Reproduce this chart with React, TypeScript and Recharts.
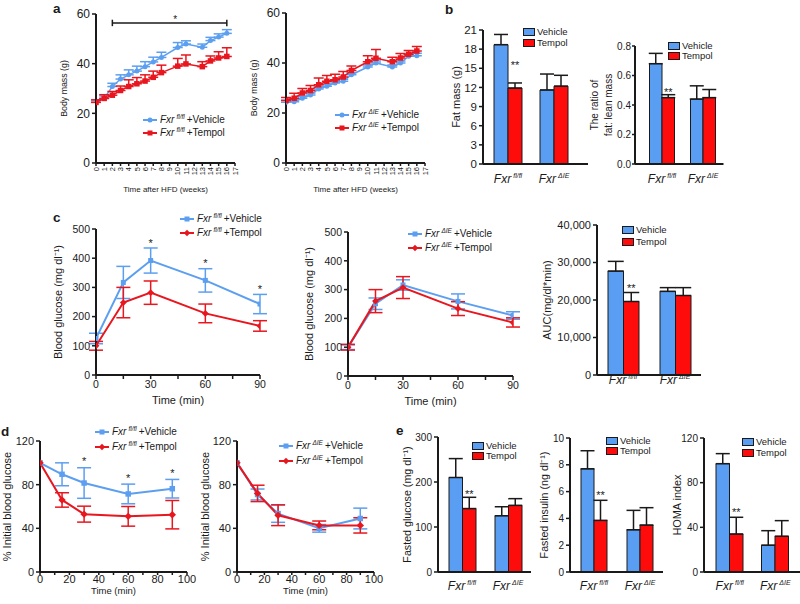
import React from 'react';
import {
  Bar, BarChart, ErrorBar, LabelList, Legend, Line, LineChart,
  ReferenceDot, ReferenceLine, XAxis, YAxis,
} from 'recharts';

const FONT = '"Liberation Sans", Arial, Helvetica, sans-serif';
const INK = '#1a1a1a';
const BLUE = '#5c9ff0';
const RED = '#e8161e';
const BAR_BLUE = '#5a9ef4';
const BAR_RED = '#fe0c0c';

// a: body mass after HFD
const weeks = [0, 1, 2, 3, 4, 5, 6, 7, 8, 10, 11, 13, 14, 15, 16];
const weekTicks = [0, 1, 2, 3, 4, 5, 6, 7, 8, 9, 10, 11, 12, 13, 14, 15, 16, 17];
const aFlVeh = [24.5, 26, 30.8, 33.8, 35.5, 37, 38.8, 40.7, 42.5, 46.5, 47.9, 46.6, 49.3, 50.7, 52.2];
const aFlVehErr = [1, 1, 1.3, 1.7, 2, 2, 2, 1.9, 2.1, 2, 1.3, 1.3, 1.3, 1.3, 1.5];
const aFlTem = [24.4, 26, 27.3, 29.2, 30.8, 31.9, 33, 34.5, 36.4, 39, 39.9, 38.8, 41.1, 42.3, 42.9];
const aFlTemErr = [1, 1.5, 1.5, 1.8, 2.7, 2.5, 2.5, 2.5, 3, 3.1, 3.6, 2, 2, 2.5, 3.5];
const aDeVeh = [24.3, 24.5, 25.9, 27.2, 29.6, 30.7, 32, 32.7, 35.3, 38.4, 40, 38.4, 40, 42.7, 42.9];
const aDeVehErr = [0.8, 0.8, 0.8, 0.8, 0.8, 0.8, 0.8, 0.8, 0.8, 0.8, 0.8, 0.8, 0.8, 0.8, 1];
const aDeTem = [25, 25.9, 28, 29, 31.3, 32.7, 33.3, 34.4, 37, 40.5, 41.9, 40.5, 42, 43.5, 44.8];
const aDeTemErr = [1.2, 2, 1.8, 2, 2.7, 2.3, 2.2, 2.2, 1.8, 2.4, 3.5, 1.8, 1.8, 1.5, 1.8];
const aSig = { from: 2, to: 16, level: 56.4, star: 9.7 };

// c: glucose tolerance
const gttTimes = [0, 15, 30, 60, 90];
const cFlVeh = [125, 317, 392, 324, 243];
const cFlVehErr = [18, 55, 43, 40, 33];
const cFlTem = [100, 248, 282, 211, 168];
const cFlTemErr = [15, 52, 40, 32, 18];
const cDeVeh = [100, 251, 316, 259, 210];
const cDeVehErr = [8, 20, 18, 26, 13];
const cDeTem = [100, 260, 307, 234, 186];
const cDeTemErr = [10, 40, 38, 24, 16];
const vehSig = [false, false, true, true, true];

// d: insulin tolerance
const ittTimes = [0, 15, 30, 60, 90];
const dFlVeh = [100, 89.5, 81.5, 71.5, 76.3];
const dFlVehErr = [0, 10.5, 14, 9, 8.5];
const dFlTem = [100, 66, 53, 51, 52.5];
const dFlTemErr = [0, 6.6, 7.3, 9, 13];
const dDeVeh = [100, 71, 53.5, 40, 49];
const dDeVehErr = [0, 5, 8, 3.5, 9.5];
const dDeTem = [100, 72, 52, 42.7, 42.7];
const dDeTemErr = [0, 7.5, 9.5, 4, 7];

// bar panels
const genotypes = ['fl/fl', 'ΔIE'];
const treatments = ['Vehicle', 'Tempol'];
const tempolSig = ['**', ''];
const bFatVeh = [18.7, 11.6];
const bFatVehErr = [1.6, 2.5];
const bFatTem = [11.9, 12.2];
const bFatTemErr = [0.8, 1.7];
const bRatioVeh = [0.68, 0.44];
const bRatioVehErr = [0.07, 0.09];
const bRatioTem = [0.45, 0.45];
const bRatioTemErr = [0.02, 0.055];
const cAucVeh = [27700, 22300];
const cAucVehErr = [2600, 1000];
const cAucTem = [19600, 21200];
const cAucTemErr = [2400, 2100];
const eGluVeh = [210, 125];
const eGluVehErr = [42, 20];
const eGluTem = [141, 148];
const eGluTemErr = [25, 15];
const eInsVeh = [7.7, 3.15];
const eInsVehErr = [1.35, 1.45];
const eInsTem = [3.85, 3.5];
const eInsTemErr = [1.5, 1.3];
const eHomaVeh = [97, 24];
const eHomaVehErr = [9, 13];
const eHomaTem = [34, 32];
const eHomaTemErr = [15, 14];

const weekRows = (veh: number[], vErr: number[], tem: number[], tErr: number[]) =>
  weeks.map((w, i) => ({ x: w, veh: veh[i], vehErr: [0, vErr[i]], tem: tem[i], temErr: [0, tErr[i]] }));

const timeRows = (times: number[], veh: number[], vErr: number[], tem: number[], tErr: number[], sig?: boolean[]) =>
  times.map((t, i) => ({
    x: t, veh: veh[i], vehErr: vErr[i], tem: tem[i], temErr: tErr[i],
    star: sig && sig[i] ? veh[i] + vErr[i] : null,
  }));

const barRows = (veh: number[], vErr: number[], tem: number[], tErr: number[]) =>
  genotypes.map((g, i) => ({ geno: g, veh: veh[i], vehErr: [0, vErr[i]], tem: tem[i], temErr: [0, tErr[i]], sig: tempolSig[i] }));

type Pad = { l: number; t: number; r: number; b: number };
type Key = { color: string; shape: string; geno: string; treat: string };

function marker(shape: string, color: string, cx: number, cy: number, s: number, key?: any) {
  if (shape === 'circle') return <circle key={key} cx={cx} cy={cy} r={s / 2} fill={color} />;
  if (shape === 'square') return <rect key={key} x={cx - s / 2} y={cy - s / 2} width={s} height={s} fill={color} />;
  const h = s / 2 + 0.7;
  return <polygon key={key} points={`${cx},${cy - h} ${cx + h},${cy} ${cx},${cy + h} ${cx - h},${cy}`} fill={color} />;
}

const dotFn = (shape: string, color: string, s: number) => (p: any) => {
  if (p.cx == null || p.cy == null) return <g key={`e${p.index}`} />;
  return marker(shape, color, p.cx, p.cy, s, `d${p.index}`);
};

// axis titles, drawn on a thin svg laid over the chart (chart coordinates)
function Titles(p: { W: number; H: number; pad: Pad; pw: number; ph: number; y: string[]; yOff: number; yFs: number; x?: string; xDy?: number; xFs?: number }) {
  const cx = p.pad.l - p.yOff;
  const cy = p.pad.t + p.ph / 2;
  const n = p.y.length;
  return (
    <svg width={p.W} height={p.H} style={{ position: 'absolute', left: 0, top: 0, pointerEvents: 'none' }}>
      <text transform={`translate(${cx},${cy}) rotate(-90)`} textAnchor="middle" fontSize={p.yFs} fill={INK}>
        {p.y.map((l, i) => (
          <tspan key={i} x={0} y={(i - (n - 1) / 2) * 14 + p.yFs * 0.35}>{l}</tspan>
        ))}
      </text>
      {p.x && (
        <text x={p.pad.l + p.pw / 2} y={p.pad.t + p.ph + (p.xDy || 0)} textAnchor="middle" fontSize={p.xFs} fill={INK}>
          {p.x}
        </text>
      )}
    </svg>
  );
}

const weekTick = (p: any) => (
  <text x={p.x} y={p.y} transform={`rotate(-90 ${p.x} ${p.y})`} textAnchor="end" dy="0.35em" fontSize={7.5} fill={INK}>
    {p.payload.value}
  </text>
);

const genoTick = (dy: number) => (p: any) => (
  <text x={p.x} y={p.y + dy} textAnchor="middle" fontSize={12} fill={INK}>
    <tspan fontStyle="italic">Fxr</tspan>
    <tspan fontStyle="italic" fontSize={7} dx={2} dy={-5}>{p.payload.value}</tspan>
  </text>
);

const lineStar = (gap: number, fs: number) => (p: any) => {
  if (p.value == null || p.x == null || p.y == null) return null;
  return <text key={`s${p.index}`} x={p.x} y={p.y - gap + fs * 0.6} textAnchor="middle" fontSize={fs} fill={INK}>*</text>;
};

const barStar = (vals: number[], errs: number[], gap: number) => (p: any) => {
  if (!p.value) return null;
  const i = p.index ?? 0;
  const ppu = p.height / vals[i];
  const top = p.y - errs[i] * ppu;
  return <text key={`b${i}`} x={p.x + p.width / 2} y={top - gap + 6.5} textAnchor="middle" fontSize={11} fill={INK}>{p.value}</text>;
};

function LineKey({ keys, row }: { keys: Key[]; row: number }) {
  return (
    <div style={{ fontSize: 10, color: INK, lineHeight: 1, fontFamily: FONT }}>
      {keys.map((k, i) => (
        <div key={i} style={{ height: row, display: 'flex', alignItems: 'center', whiteSpace: 'nowrap' }}>
          <svg width={14} height={8} style={{ marginRight: 3, overflow: 'visible' }}>
            <line x1={0} x2={14} y1={4} y2={4} stroke={k.color} strokeWidth={2} />
            {marker(k.shape, k.color, 7, 4, 5)}
          </svg>
          <span>
            <i>Fxr</i>
            <i style={{ fontSize: 6.5, position: 'relative', top: -4, marginLeft: 2 }}>{k.geno}</i>
            <span style={{ marginLeft: 2 }}>{k.treat}</span>
          </span>
        </div>
      ))}
    </div>
  );
}

function BarKey({ row }: { row: number }) {
  return (
    <div style={{ fontSize: 9.5, color: INK, lineHeight: 1, fontFamily: FONT }}>
      {treatments.map((t, i) => (
        <div key={t} style={{ height: row, display: 'flex', alignItems: 'center', whiteSpace: 'nowrap' }}>
          <span style={{ display: 'inline-block', width: 10, height: 6, background: i ? BAR_RED : BAR_BLUE, border: `1px solid ${INK}`, marginRight: 2 }} />
          {t}
        </div>
      ))}
    </div>
  );
}

const axisLine = { stroke: INK, strokeWidth: 2 };
const tickLine = { stroke: INK, strokeWidth: 1.5 };

function LinePanel(p: any) {
  const [x0, y0, x1, y1] = p.box;
  const pad: Pad = p.pad;
  const left = x0 - pad.l;
  const top = y0 - pad.t;
  const W = x1 - x0 + pad.l + pad.r;
  const H = y1 - y0 + pad.t + pad.b;
  const keys: Key[] = [
    { color: BLUE, shape: p.vehShape, geno: p.geno, treat: '+Vehicle' },
    { color: RED, shape: p.temShape, geno: p.geno, treat: '+Tempol' },
  ];
  return (
    <div style={{ position: 'absolute', left, top, width: W, height: H }}>
      <LineChart width={W} height={H} data={p.data} margin={{ top: pad.t, right: pad.r, left: 0, bottom: 0 }}>
        <XAxis
          type="number" dataKey="x" domain={p.xDomain} ticks={p.xTicks} interval={0} allowDataOverflow
          height={pad.b} axisLine={axisLine} tickLine={tickLine} tickSize={p.xTickSize} tickMargin={p.xTickMargin}
          tick={p.rotated ? weekTick : { fontSize: p.tickFont, fill: INK }}
          tickFormatter={p.xFmt}
        />
        <YAxis
          type="number" domain={p.yDomain} ticks={p.yTicks} interval={0} allowDataOverflow width={pad.l}
          axisLine={axisLine} tickLine={tickLine} tickSize={4} tickMargin={2}
          tick={{ fontSize: p.tickFont, fill: INK }}
        />
        {p.sig && (
          <ReferenceLine segment={[{ x: p.sig.from, y: p.sig.level }, { x: p.sig.to, y: p.sig.level }]} stroke={INK} strokeWidth={1.5} />
        )}
        {p.sig && (
          <ReferenceLine segment={[{ x: p.sig.from, y: p.sig.level - 1.3 }, { x: p.sig.from, y: p.sig.level + 1.3 }]} stroke={INK} strokeWidth={1.5} />
        )}
        {p.sig && (
          <ReferenceLine segment={[{ x: p.sig.to, y: p.sig.level - 1.3 }, { x: p.sig.to, y: p.sig.level + 1.3 }]} stroke={INK} strokeWidth={1.5} />
        )}
        {p.sig && (
          <ReferenceDot
            x={p.sig.star} y={p.sig.level} r={1} fill="none" stroke="none"
            label={(lp: any) => {
              const vb = lp.viewBox || { x: 0, y: 0, width: 0 };
              return <text x={vb.x + vb.width / 2} y={vb.y + 1} textAnchor="middle" fontSize={10} fill={INK}>*</text>;
            }}
          />
        )}
        <Line
          dataKey="veh" stroke={BLUE} strokeWidth={p.lineW} isAnimationActive={false}
          dot={dotFn(p.vehShape, BLUE, p.dotSize)} activeDot={false}
        >
          <ErrorBar dataKey="vehErr" width={p.cap} stroke={BLUE} strokeWidth={1.5} direction="y" />
        </Line>
        <Line
          dataKey="tem" stroke={RED} strokeWidth={p.lineW} isAnimationActive={false}
          dot={dotFn(p.temShape, RED, p.dotSize + 0.5)} activeDot={false}
        >
          <ErrorBar dataKey="temErr" width={p.cap} stroke={RED} strokeWidth={1.5} direction="y" />
        </Line>
        {p.starGap != null && (
          <Line dataKey="star" stroke="none" dot={false} activeDot={false} isAnimationActive={false} legendType="none">
            <LabelList dataKey="star" content={lineStar(p.starGap, 11)} />
          </Line>
        )}
        <Legend
          layout="vertical" align="center" verticalAlign="middle"
          content={() => <LineKey keys={keys} row={p.keyRow} />}
          wrapperStyle={{ left: p.keyX - left, top: p.keyY - top, width: 'auto', height: 'auto' }}
        />
      </LineChart>
      <Titles
        W={W} H={H} pad={pad} pw={x1 - x0} ph={y1 - y0}
        y={[p.yTitle]} yOff={p.yTitleOff} yFs={p.yTitleFont}
        x={p.xTitle} xDy={p.xTitleDy} xFs={p.xTitleFont}
      />
    </div>
  );
}

function BarPanel(p: any) {
  const [x0, y0, x1, y1] = p.box;
  const pad: Pad = p.pad;
  const left = x0 - pad.l;
  const top = y0 - pad.t;
  const W = x1 - x0 + pad.l + pad.r;
  const H = y1 - y0 + pad.t + pad.b;
  return (
    <div style={{ position: 'absolute', left, top, width: W, height: H }}>
      <BarChart width={W} height={H} data={p.data} barGap={0} margin={{ top: pad.t, right: pad.r, left: 0, bottom: 0 }}>
        <XAxis
          dataKey="geno" padding={p.xPad} height={pad.b} axisLine={axisLine} tickLine={false}
          tickSize={0} tickMargin={0} interval={0} tick={genoTick(p.labelDy)}
        />
        <YAxis
          type="number" domain={p.yDomain} ticks={p.yTicks} interval={0} allowDataOverflow width={pad.l}
          axisLine={axisLine} tickLine={tickLine} tickSize={p.yTickSize ?? 4} tickMargin={p.yTickMargin ?? 2}
          tick={{ fontSize: p.tickFont, fill: INK }} tickFormatter={p.yFmt}
        />
        <Bar dataKey="veh" fill={BAR_BLUE} stroke={INK} strokeWidth={1} barSize={p.bw} isAnimationActive={false}>
          <ErrorBar dataKey="vehErr" width={p.cap} stroke={INK} strokeWidth={1.5} direction="y" />
        </Bar>
        <Bar dataKey="tem" fill={BAR_RED} stroke={INK} strokeWidth={1} barSize={p.bw} isAnimationActive={false}>
          <ErrorBar dataKey="temErr" width={p.cap} stroke={INK} strokeWidth={1.5} direction="y" />
          <LabelList dataKey="sig" content={barStar(p.tem, p.temErr, p.starGap)} />
        </Bar>
        <Legend
          layout="vertical" align="center" verticalAlign="middle"
          content={() => <BarKey row={p.keyRow} />}
          wrapperStyle={{ left: p.keyX - left, top: p.keyY - top, width: 'auto', height: 'auto' }}
        />
      </BarChart>
      <Titles W={W} H={H} pad={pad} pw={x1 - x0} ph={y1 - y0} y={p.yTitle} yOff={p.yTitleOff} yFs={p.yTitleFont} />
    </div>
  );
}

const fmtThousands = (v: number) => v.toLocaleString('en-US');
const fmtOne = (v: number) => v.toFixed(1);
const every = (n: number) => (v: number) => (v % n === 0 ? String(v) : '');

export default function App() {
  return (
    <div style={{ position: 'absolute', left: 0, top: 0, width: 800, height: 604, background: '#fff', fontFamily: FONT, overflow: 'hidden' }}>
      {/* a */}
      <LinePanel
        box={[96, 14, 235, 163]} pad={{ l: 46, t: 10, r: 12, b: 36 }}
        data={weekRows(aFlVeh, aFlVehErr, aFlTem, aFlTemErr)}
        xDomain={[0, 17]} xTicks={weekTicks} rotated xTickSize={3} xTickMargin={1}
        yDomain={[0, 60]} yTicks={[0, 20, 40, 60]} tickFont={12}
        vehShape="circle" temShape="square" dotSize={5} cap={5} lineW={1.5} geno="fl/fl"
        yTitle="Body mass (g)" yTitleOff={32} yTitleFont={8.8}
        xTitle="Time after HFD (weeks)" xTitleDy={29} xTitleFont={8}
        keyX={143} keyY={113.5} keyRow={13} sig={aSig}
      />
      <LinePanel
        box={[286, 13, 425, 163]} pad={{ l: 46, t: 10, r: 12, b: 36 }}
        data={weekRows(aDeVeh, aDeVehErr, aDeTem, aDeTemErr)}
        xDomain={[0, 17]} xTicks={weekTicks} rotated xTickSize={3} xTickMargin={1}
        yDomain={[0, 60]} yTicks={[0, 20, 40, 60]} tickFont={12}
        vehShape="circle" temShape="square" dotSize={5} cap={5} lineW={1.5} geno="ΔIE"
        yTitle="Body mass (g)" yTitleOff={32} yTitleFont={8.8}
        xTitle="Time after HFD (weeks)" xTitleDy={29} xTitleFont={8}
        keyX={335} keyY={108.5} keyRow={13}
      />
      {/* b */}
      <BarPanel
        box={[483, 30, 588, 164]} pad={{ l: 40, t: 10, r: 8, b: 26 }} xPad={{ left: 2, right: 11 }}
        data={barRows(bFatVeh, bFatVehErr, bFatTem, bFatTemErr)} tem={bFatTem} temErr={bFatTemErr}
        bw={14} cap={7} yDomain={[0, 21]} yTicks={[0, 3, 6, 9, 12, 15, 18, 21]} tickFont={11.5}
        yTitle={['Fat mass (g)']} yTitleOff={27} yTitleFont={11} labelDy={19}
        keyX={523} keyY={26.5} keyRow={11} starGap={20}
      />
      <BarPanel
        box={[635, 46, 723.5, 164]} pad={{ l: 50, t: 10, r: 6, b: 26 }} xPad={{ left: 6.5, right: 0 }}
        data={barRows(bRatioVeh, bRatioVehErr, bRatioTem, bRatioTemErr)} tem={bRatioTem} temErr={bRatioTemErr}
        bw={12.5} cap={7} yDomain={[0, 0.8]} yTicks={[0, 0.2, 0.4, 0.6, 0.8]} yFmt={fmtOne} tickFont={10}
        yTickSize={3} yTickMargin={1}
        yTitle={['The ratio of', 'fat: lean mass']} yTitleOff={33.5} yTitleFont={10} labelDy={19}
        keyX={668} keyY={41} keyRow={10} starGap={5}
      />
      {/* c */}
      <LinePanel
        box={[96, 229, 260, 375]} pad={{ l: 50, t: 10, r: 10, b: 34 }}
        data={timeRows(gttTimes, cFlVeh, cFlVehErr, cFlTem, cFlTemErr, vehSig)}
        xDomain={[0, 90]} xTicks={[0, 15, 30, 45, 60, 75, 90]} xFmt={every(30)} xTickSize={4} xTickMargin={2}
        yDomain={[0, 500]} yTicks={[0, 100, 200, 300, 400, 500]} tickFont={10.5}
        vehShape="square" temShape="diamond" dotSize={5} cap={7} lineW={2} geno="fl/fl"
        yTitle="Blood glucose (mg dl⁻¹)" yTitleOff={38} yTitleFont={11}
        xTitle="Time (min)" xTitleDy={28.5} xTitleFont={11}
        keyX={180} keyY={212} keyRow={14} starGap={8}
      />
      <LinePanel
        box={[348, 231.5, 513, 375.5]} pad={{ l: 50, t: 10, r: 10, b: 34 }}
        data={timeRows(gttTimes, cDeVeh, cDeVehErr, cDeTem, cDeTemErr)}
        xDomain={[0, 90]} xTicks={[0, 15, 30, 45, 60, 75, 90]} xFmt={every(30)} xTickSize={4} xTickMargin={2}
        yDomain={[0, 500]} yTicks={[0, 100, 200, 300, 400, 500]} tickFont={10.5}
        vehShape="square" temShape="diamond" dotSize={5} cap={7} lineW={2} geno="ΔIE"
        yTitle="Blood glucose (mg dl⁻¹)" yTitleOff={39} yTitleFont={11}
        xTitle="Time (min)" xTitleDy={28.5} xTitleFont={11}
        keyX={408} keyY={227} keyRow={14}
      />
      <BarPanel
        box={[597, 225, 701, 375]} pad={{ l: 60, t: 10, r: 8, b: 20 }} xPad={{ left: 0, right: 0 }}
        data={barRows(cAucVeh, cAucVehErr, cAucTem, cAucTemErr)} tem={cAucTem} temErr={cAucTemErr}
        bw={15.5} cap={8} yDomain={[0, 40000]} yTicks={[0, 10000, 20000, 30000, 40000]} yFmt={fmtThousands} tickFont={11}
        yTitle={['AUC(mg/dl*min)']} yTitleOff={50} yTitleFont={11} labelDy={8.5}
        keyX={622} keyY={224} keyRow={12} starGap={7}
      />
      {/* d */}
      <LinePanel
        box={[40, 441, 187, 572]} pad={{ l: 40, t: 10, r: 10, b: 28 }}
        data={timeRows(ittTimes, dFlVeh, dFlVehErr, dFlTem, dFlTemErr, vehSig)}
        xDomain={[0, 100]} xTicks={[0, 10, 20, 30, 40, 50, 60, 70, 80, 90, 100]} xFmt={every(20)} xTickSize={3} xTickMargin={0}
        yDomain={[0, 120]} yTicks={[0, 40, 80, 120]} tickFont={11}
        vehShape="square" temShape="diamond" dotSize={5.5} cap={7} lineW={2} geno="fl/fl"
        yTitle="% Initial blood glucose" yTitleOff={33} yTitleFont={11}
        xTitle="Time (min)" xTitleDy={22} xTitleFont={9.5}
        keyX={95} keyY={424.5} keyRow={15} starGap={9}
      />
      <LinePanel
        box={[237, 441, 374, 572]} pad={{ l: 40, t: 10, r: 10, b: 28 }}
        data={timeRows(ittTimes, dDeVeh, dDeVehErr, dDeTem, dDeTemErr)}
        xDomain={[0, 100]} xTicks={[0, 10, 20, 30, 40, 50, 60, 70, 80, 90, 100]} xFmt={every(20)} xTickSize={3} xTickMargin={0}
        yDomain={[0, 120]} yTicks={[0, 40, 80, 120]} tickFont={11}
        vehShape="square" temShape="diamond" dotSize={5.5} cap={7} lineW={2} geno="ΔIE"
        yTitle="% Initial blood glucose" yTitleOff={32} yTitleFont={11}
        xTitle="Time (min)" xTitleDy={22} xTitleFont={9.5}
        keyX={279} keyY={438.5} keyRow={15}
      />
      {/* e */}
      <BarPanel
        box={[438, 437, 531, 572]} pad={{ l: 40, t: 10, r: 6, b: 28 }} xPad={{ left: 1, right: 0 }}
        data={barRows(eGluVeh, eGluVehErr, eGluTem, eGluTemErr)} tem={eGluTem} temErr={eGluTemErr}
        bw={13.5} cap={7} yDomain={[0, 300]} yTicks={[0, 100, 200, 300]} tickFont={10}
        yTitle={['Fasted glucose (mg dl⁻¹)']} yTitleOff={31} yTitleFont={10.7} labelDy={18}
        keyX={472} keyY={440.5} keyRow={10} starGap={6}
      />
      <BarPanel
        box={[570, 438, 663, 572]} pad={{ l: 36, t: 10, r: 6, b: 28 }} xPad={{ left: 1, right: 0 }}
        data={barRows(eInsVeh, eInsVehErr, eInsTem, eInsTemErr)} tem={eInsTem} temErr={eInsTemErr}
        bw={13} cap={7} yDomain={[0, 10]} yTicks={[0, 2, 4, 6, 8, 10]} tickFont={10}
        yTitle={['Fasted insulin (ng dl⁻¹)']} yTitleOff={26} yTitleFont={10.7} labelDy={18}
        keyX={606} keyY={436} keyRow={10} starGap={8}
      />
      <BarPanel
        box={[704, 438, 800, 572]} pad={{ l: 35, t: 10, r: 0, b: 28 }} xPad={{ left: 3, right: 2 }}
        data={barRows(eHomaVeh, eHomaVehErr, eHomaTem, eHomaTemErr)} tem={eHomaTem} temErr={eHomaTemErr}
        bw={13.5} cap={7} yDomain={[0, 120]} yTicks={[0, 40, 80, 120]} tickFont={10}
        yTitle={['HOMA index']} yTitleOff={27} yTitleFont={10.9} labelDy={18}
        keyX={742} keyY={436.5} keyRow={11} starGap={8}
      />
      <svg width={800} height={604} style={{ position: 'absolute', left: 0, top: 0, pointerEvents: 'none' }}>
        <g fontWeight="bold" fontSize={13.5} fill={INK}>
          <text x={53} y={13}>a</text>
          <text x={445} y={13.5}>b</text>
          <text x={53} y={222}>c</text>
          <text x={1} y={436}>d</text>
          <text x={396} y={435}>e</text>
        </g>
      </svg>
    </div>
  );
}
